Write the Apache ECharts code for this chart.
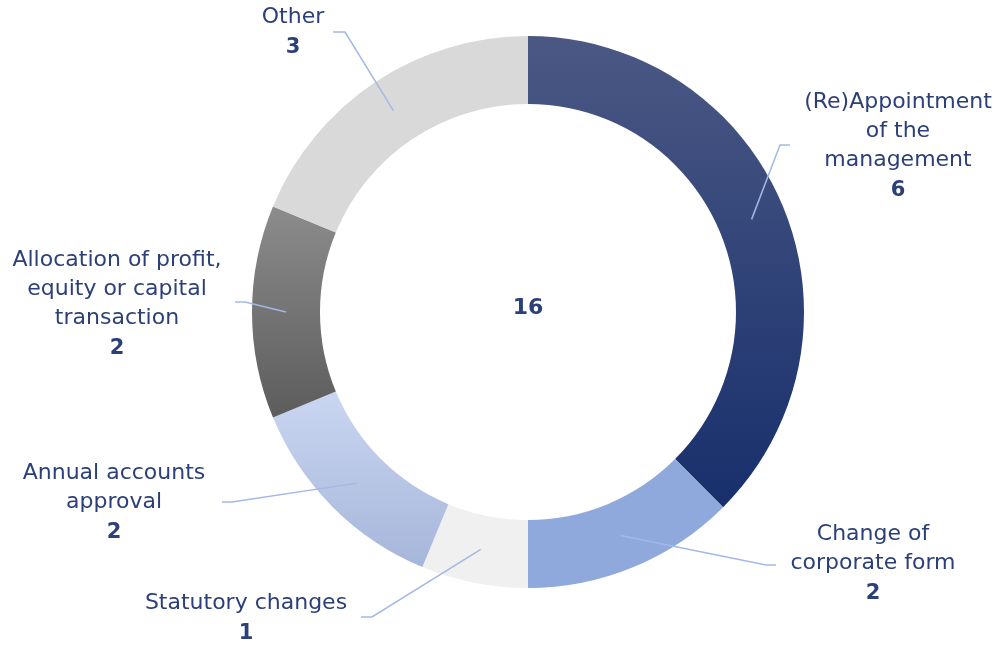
<!DOCTYPE html>
<html>
<head>
<meta charset="utf-8">
<script src="https://cdn.jsdelivr.net/npm/echarts@6/dist/echarts.min.js"></script>
<style>
html,body{margin:0;padding:0;background:#fff}
#chart{width:1001px;height:645px}
</style>
</head>
<body>
<div id="chart"></div>
<script>
// data
var names = ['(Re)Appointment\nof the\nmanagement', 'Change of\ncorporate form', 'Statutory changes',
    'Annual accounts\napproval', 'Allocation of profit,\nequity or capital\ntransaction', 'Other'];
var values = [6, 2, 1, 2, 2, 3];

// look
var textColor = '#2B3F78';
var font = 'DejaVu Sans';
var cx = 528, cy = 312, rIn = 208, rOut = 276;
var midR = (rIn + rOut) / 2;
var grad = function (a, b) {
    return new echarts.graphic.LinearGradient(0, 0, 0, 1, [{offset: 0, color: a}, {offset: 1, color: b}]);
};
var colors = [grad('#4B5884', '#172F6C'), '#8FA9DC', '#F0F0F0', grad('#CAD6F1', '#A6B6DA'), grad('#8C8C8C', '#5C5C5C'), '#D9D9D9'];
// label block: centre x, top y, elbow x, elbow y, end x
var labelPos = [
    [898, 88, 780, 145, 790],
    [873, 520, 766, 565, 776],
    [246, 589, 372, 617, 361],
    [114, 459, 232, 502, 222],
    [117, 246, 245, 302, 235],
    [293, 3, 345, 32, 333]
];

var total = values.reduce(function (s, v) { return s + v; }, 0);
var data = names.map(function (n, i) {
    return {name: n, value: values[i], itemStyle: {color: colors[i]}};
});
var labelData = names.map(function (n, i) {
    return {name: n, value: values[i]};
});

var chart = echarts.init(document.getElementById('chart'));
var option = {
    animation: false,
    graphic: [{
        type: 'text',
        style: {
            x: cx, y: cy - 4, text: String(total), align: 'center', verticalAlign: 'middle',
            fontSize: 22, fontWeight: 'bold', fontFamily: font, fill: textColor
        }
    }],
    series: [{
        // the ring
        type: 'pie',
        center: [cx, cy],
        radius: [rIn, rOut],
        startAngle: 90,
        silent: true,
        label: {show: false},
        labelLine: {show: false},
        data: data
    }, {
        // same slices, transparent, only to carry labels and lines above the ring
        type: 'pie',
        z: 5,
        center: [cx, cy],
        radius: [rIn, rOut],
        startAngle: 90,
        avoidLabelOverlap: false,
        silent: true,
        data: labelData,
        itemStyle: {color: 'rgba(0,0,0,0)'},
        label: {
            show: true,
            position: 'outside',
            width: 320,
            overflow: 'none',
            color: textColor,
            fontFamily: font,
            formatter: function (p) {
                return p.name.split('\n').map(function (l) { return '{n|' + l + '}'; }).join('\n') + '\n{v|' + p.value + '}';
            },
            rich: {
                n: {fontSize: 22, lineHeight: 29, color: textColor, fontFamily: font, align: 'center'},
                v: {fontSize: 21, lineHeight: 31, color: textColor, fontFamily: font, fontWeight: 'bold', align: 'center'}
            }
        },
        labelLine: {
            show: true,
            length: 20,
            length2: 10,
            lineStyle: {color: '#A4B8E6', width: 1.5}
        },
        labelLayout: function (p) {
            var L = labelPos[p.dataIndex];
            var s;
            var pts = p.labelLinePoints;
            if (pts && pts[0]) {
                var dx = pts[0][0] - cx, dy = pts[0][1] - cy, d = Math.sqrt(dx * dx + dy * dy) || 1;
                s = [cx + dx / d * midR, cy + dy / d * midR];
            } else {
                var cum = 0;
                for (var i = 0; i < p.dataIndex; i++) cum += values[i];
                var a = (cum + values[p.dataIndex] / 2) / total * Math.PI * 2;
                s = [cx + Math.sin(a) * midR, cy - Math.cos(a) * midR];
            }
            return {
                x: L[0], y: L[1], align: 'center', verticalAlign: 'top',
                labelLinePoints: [s, [L[2], L[3]], [L[4], L[3]]]
            };
        }
    }]
};
chart.setOption(option);
</script>
</body>
</html>
